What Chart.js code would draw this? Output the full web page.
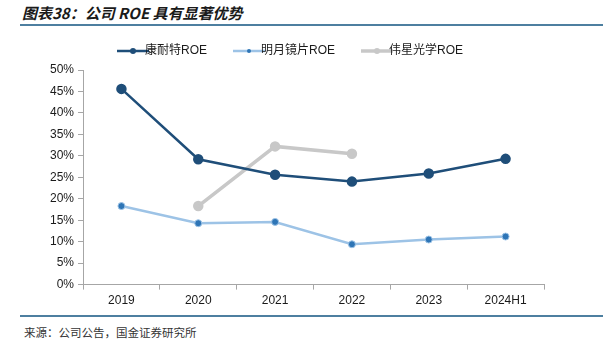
<!DOCTYPE html>
<html>
<head>
<meta charset="utf-8">
<script src="https://cdn.jsdelivr.net/npm/chart.js@4.4.0/dist/chart.umd.min.js"></script>
<style>
  body { margin: 0; background: #fff; width: 603px; height: 352px; position: relative; overflow: hidden; }
  #title { position: absolute; left: 22px; top: 2px; font: italic bold 15px "Noto Sans CJK SC", sans-serif; color: #1a1a1a; }
  .rule { position: absolute; left: 20px; width: 583px; height: 2px; background: #4d7fa0; }
  #src { position: absolute; left: 24px; top: 324px; font: 11.5px "Noto Sans CJK SC", sans-serif; color: #333; }
  #wrap { position: absolute; left: 0; top: 9px; width: 603px; height: 303px; }
</style>
</head>
<body>
<div id="title">图表38：公司 ROE 具有显著优势</div>
<div class="rule" style="top:24px"></div>
<div id="wrap"><canvas id="roeChart"></canvas></div>
<div class="rule" style="top:315px"></div>
<div id="src">来源：公司公告，国金证券研究所</div>
<script>
// categories and values (ROE, %)
const years = ["2019", "2020", "2021", "2022", "2023", "2024H1"];
const kangnaite = [45.6, 29.2, 25.6, 24.0, 25.9, 29.3];
const mingyue = [18.3, 14.3, 14.6, 9.4, 10.5, 11.2];
const weixing = [null, 18.3, 32.2, 30.5, null, null];

// legend swatch: line with a dot in the middle
function swatch(lineColor, dotColor, lineW, r) {
    const c = document.createElement('canvas');
    c.width = 32; c.height = 10;
    const g = c.getContext('2d');
    g.strokeStyle = lineColor;
    g.lineWidth = lineW;
    g.beginPath(); g.moveTo(0, 5); g.lineTo(32, 5); g.stroke();
    g.fillStyle = dotColor;
    g.beginPath(); g.arc(16, 5, r, 0, Math.PI * 2); g.fill();
    return c;
}

// a little extra room between legend and plot
const legendGap = {
    id: 'legendGap',
    beforeInit(chart) {
        const fit = chart.legend.fit;
        chart.legend.fit = function () {
            fit.bind(chart.legend)();
            this.height += 3;
        };
    }
};

const axisColor = '#a6a6a6';
const font = { family: 'Liberation Sans, Arial, "Noto Sans CJK SC"', size: 12 };

new Chart(document.getElementById('roeChart'), {
    type: 'line',
    data: {
        labels: years,
        datasets: [{
            label: '康耐特ROE',
            data: kangnaite,
            borderColor: '#1f4e79',
            backgroundColor: '#1f4e79',
            borderWidth: 2.5,
            pointRadius: 4,
            pointStyle: 'circle',
            legendSwatch: swatch('#1f4e79', '#1f4e79', 2.5, 3)
        }, {
            label: '明月镜片ROE',
            data: mingyue,
            borderColor: '#9dc3e6',
            backgroundColor: '#2e75b6',
            pointBorderColor: '#9dc3e6',
            pointBorderWidth: 1,
            borderWidth: 2.5,
            pointRadius: 3.5,
            legendSwatch: swatch('#9dc3e6', '#2e75b6', 2.5, 2)
        }, {
            label: '伟星光学ROE',
            data: weixing,
            borderColor: '#c8c8c8',
            backgroundColor: '#c8c8c8',
            borderWidth: 3.5,
            pointRadius: 3.5,
            spanGaps: false,
            legendSwatch: swatch('#c8c8c8', '#c8c8c8', 3.5, 3)
        }]
    },
    plugins: [legendGap],
    options: {
        responsive: true,
        maintainAspectRatio: false,
        animation: false,
        layout: { padding: { left: 46, right: 59, top: 0, bottom: 0 } },
        plugins: {
            tooltip: { enabled: false },
            legend: {
                position: 'top',
                labels: {
                    font: font,
                    color: '#1a1a1a',
                    usePointStyle: true,
                    boxHeight: 10,
                    padding: 36,
                    generateLabels: chart => chart.data.datasets.map((ds, i) => ({
                        text: ds.label,
                        pointStyle: ds.legendSwatch,
                        datasetIndex: i,
                        fontColor: '#1a1a1a',
                        lineWidth: 0,
                        strokeStyle: 'transparent',
                        fillStyle: 'transparent'
                    }))
                }
            }
        },
        scales: {
            x: {
                offset: true,
                grid: { drawOnChartArea: false, drawTicks: true, tickLength: 5, color: axisColor, offset: true },
                border: { color: axisColor, width: 1 },
                ticks: { font: font, color: '#1a1a1a', padding: 4, maxRotation: 0 }
            },
            y: {
                min: 0,
                max: 50,
                ticks: { stepSize: 5, font: font, color: '#1a1a1a', padding: 4, callback: v => v + '%' },
                grid: { drawOnChartArea: false, drawTicks: true, tickLength: 5, color: axisColor },
                border: { color: axisColor, width: 1 }
            }
        }
    }
});
</script>
</body>
</html>
